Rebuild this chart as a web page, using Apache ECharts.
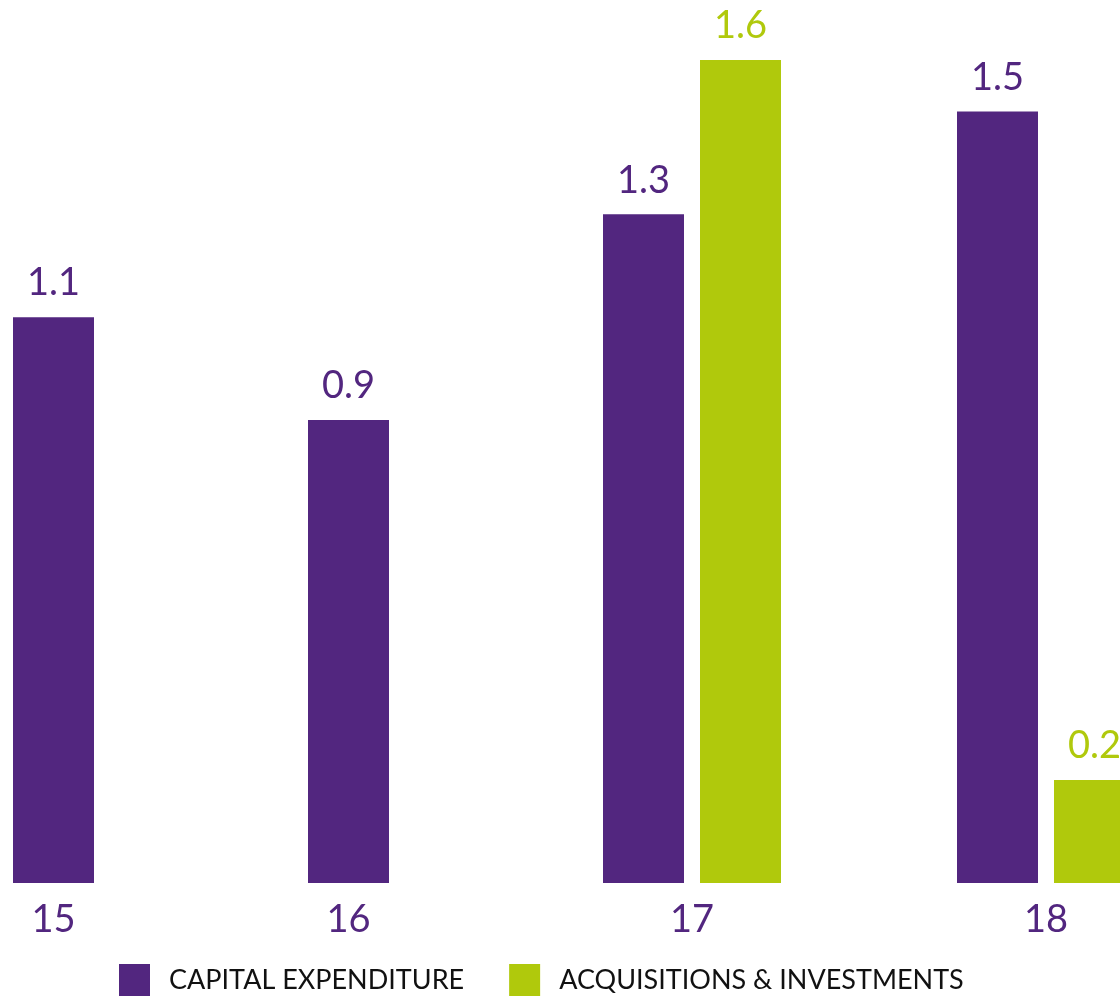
<!DOCTYPE html>
<html>
<head>
<meta charset="utf-8">
<title>Capital expenditure and acquisitions</title>
<script src="https://cdn.jsdelivr.net/npm/echarts@6/dist/echarts.min.js"></script>
<style>
  html, body { margin: 0; padding: 0; background: #ffffff; overflow: hidden; }
  /* The drawing runs a little past the right edge of the page, so the
     last bar and its label are cut off by the window. */
  #chart { width: 1200px; height: 996px; }
</style>
</head>
<body>
<div id="chart"></div>
<script>
// Years shown along the bottom
const categories = ['15', '16', '17', '18'];
// Capital expenditure per year
const capitalExpenditure = [1.1, 0.9, 1.3, 1.5];
// Acquisitions & investments per year (none in the first two years)
const acquisitionsInvestments = [null, null, 1.6, 0.2];

const seriesNames = ['CAPITAL EXPENDITURE', 'ACQUISITIONS & INVESTMENTS'];

const PURPLE = '#52267f';
const GREEN = '#b0c90c';
const FONT = 'Lato, "Open Sans", sans-serif';

// Layout: each year gets its own little grid so the bar groups sit
// where the design puts them.
const GROUP_CENTERS = [53.5, 348.5, 692, 1046];
const BAR_WIDTH = 81;
const BAR_GAP = 16;
const BASE_BOTTOM = 113;   // distance of the baseline from the canvas bottom
const PLOT_TOP = 8.5;
const Y_MAX = 1.7;

const grids = [], xAxes = [], yAxes = [], series = [];

categories.forEach((cat, i) => {
  const values = [capitalExpenditure[i], acquisitionsInvestments[i]];
  const n = values.filter(v => v != null).length;
  const width = n * BAR_WIDTH + (n - 1) * BAR_GAP;
  grids.push({
    left: GROUP_CENTERS[i] - width / 2,
    width: width,
    top: PLOT_TOP,
    bottom: BASE_BOTTOM,
    containLabel: false
  });
  xAxes.push({
    type: 'category',
    gridIndex: i,
    data: [cat],
    axisLine: { show: false },
    axisTick: { show: false },
    axisLabel: {
      color: PURPLE,
      fontFamily: FONT,
      fontSize: 38,
      margin: 18
    }
  });
  yAxes.push({
    type: 'value',
    gridIndex: i,
    min: 0,
    max: Y_MAX,
    show: false,
    splitLine: { show: false }
  });
  values.forEach((v, k) => {
    if (v == null) return;
    const color = k === 0 ? PURPLE : GREEN;
    series.push({
      name: seriesNames[k],
      type: 'bar',
      xAxisIndex: i,
      yAxisIndex: i,
      data: [v],
      barWidth: BAR_WIDTH,
      barGap: (BAR_GAP / BAR_WIDTH * 100) + '%',
      itemStyle: { color: color },
      label: {
        show: true,
        position: 'top',
        distance: 15,
        color: color,
        fontFamily: FONT,
        fontSize: 38,
        formatter: p => p.value.toFixed(1)
      },
      silent: true,
      animation: false
    });
  });
});

const chart = echarts.init(document.getElementById('chart'), null, { renderer: 'canvas' });
chart.setOption({
  backgroundColor: '#ffffff',
  animation: false,
  grid: grids,
  xAxis: xAxes,
  yAxis: yAxes,
  legend: {
    data: seriesNames.map((name, k) => ({
      name: name,
      itemStyle: { color: k === 0 ? PURPLE : GREEN }
    })),
    left: 119,
    top: 964,
    padding: 0,
    icon: 'rect',
    itemWidth: 31,
    itemHeight: 32,
    itemGap: 45,
    selectedMode: false,
    textStyle: {
      color: '#111111',
      fontFamily: FONT,
      fontSize: 27,
      padding: [0, 0, 0, 14]
    }
  },
  series: series
});
</script>
</body>
</html>
